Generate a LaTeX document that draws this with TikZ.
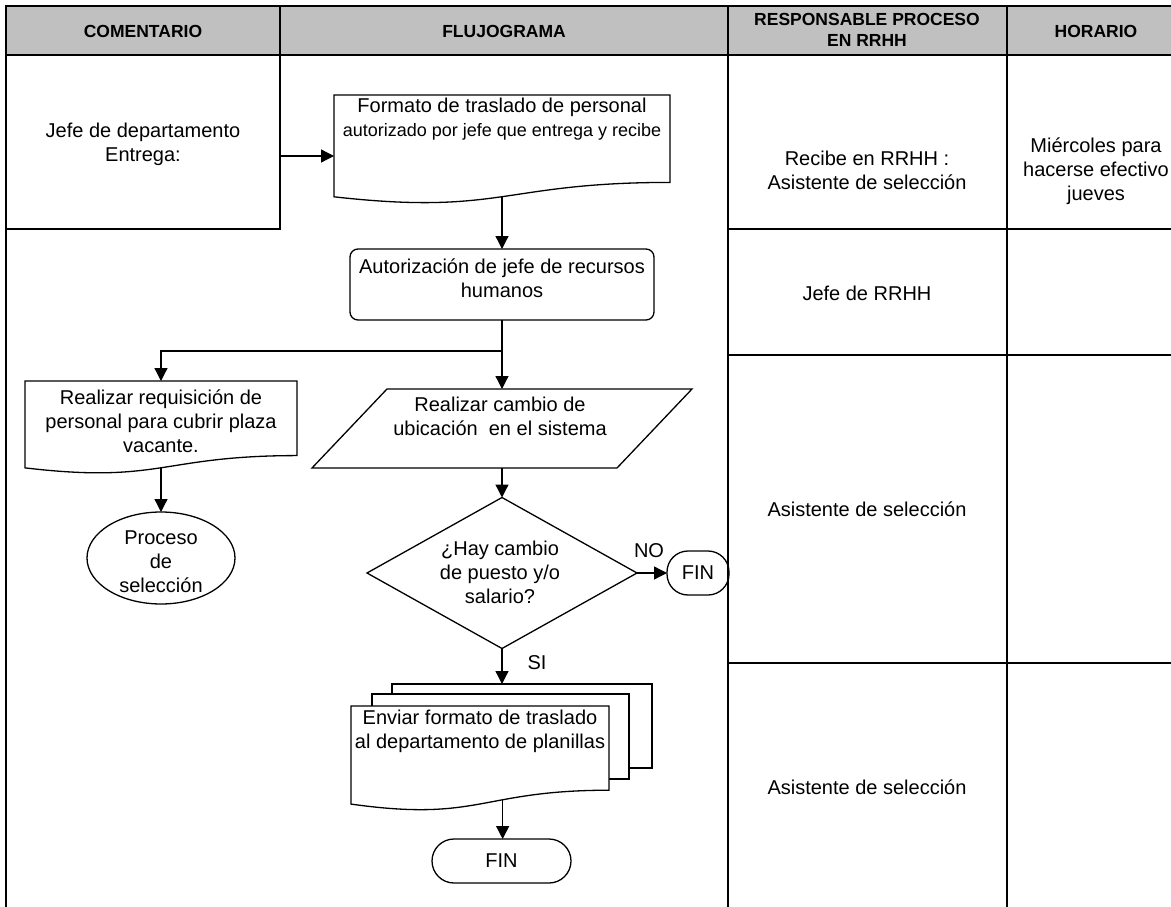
\documentclass[tikz,border=0pt]{standalone}
\usepackage{fontspec}
\setmainfont{Liberation Sans}
\usetikzlibrary{arrows.meta,calc,shapes.geometric}

\definecolor{hdrgray}{RGB}{192,192,192}

\tikzset{
  grid/.style={line width=2.6pt, line cap=rect, draw=black},
  flowline/.style={line width=1.3pt, draw=black},
  arrowline/.style={flowline, -{Triangle[length=13pt,width=13pt]}},
  txt/.style={align=center, font=\fontsize{20}{24}\selectfont, inner sep=0pt},
  hdr/.style={align=center, font=\bfseries\fontsize{17.5}{21}\selectfont, inner sep=0pt},
  box/.style={draw=none, inner sep=0pt, outer sep=0pt},
  shapebox/.style={flowline, fill=white, inner sep=0pt, outer sep=0pt},
}

% document symbol with a wavy bottom edge, drawn over the bounds of node #1;
% #3 is a coordinate placed on the wave at curve parameter #2
\newcommand{\docshape}[3]{%
  \draw[flowline, fill=white]
    (#1.north west) -- (#1.north east)
    -- ($(#1.north east)!0.802!(#1.south east)$)
    .. controls ($(#1.north)!0.802!(#1.south)$) and ($(#1.north)!1.1075!(#1.south)$)
    .. coordinate[pos=#2] (#3) ($(#1.north west)!0.934!(#1.south west)$)
    -- cycle;}

\begin{document}
\begin{tikzpicture}[x=1pt,y=-1pt]
\useasboundingbox (0,0) rectangle (1171,907);

% header band
\fill[hdrgray] (6,6) rectangle (1171,55);

% ---------- flowchart shapes ----------
% transfer form
\node[box, minimum width=336pt, minimum height=109pt] (fmt) at (502,149.5) {};
\docshape{fmt}{0.5}{fmtout}
\node[txt] (fmttxt) at (502,119) {Formato de traslado de personal\\{\fontsize{18}{21}\selectfont autorizado por jefe que entrega y recibe}};

% HR approval
\node[shapebox, draw, rounded corners=8pt, minimum width=304pt, minimum height=71pt] (auth) at (502,284.5) {};
\node[txt] (authtxt) at (502,278) {Autorización de jefe de recursos\\humanos};

% system update (parallelogram)
\node[box, minimum width=380pt, minimum height=79pt] (chg) at (502,428.5) {};
\draw[flowline, fill=white] ([xshift=75pt]chg.north west) -- (chg.north east)
  -- ([xshift=-75pt]chg.south east) -- (chg.south west) -- cycle;
\node[txt] (chgtxt) at (500,416) {Realizar cambio de\\ubicación\ \ en el sistema};

% staff requisition
\node[box, minimum width=272pt, minimum height=93pt] (req) at (161,427.5) {};
\docshape{req}{0.5}{reqout}
\node[txt] (reqtxt) at (161,421) {Realizar requisición de\\personal para cubrir plaza\\vacante.};

% selection process
\node[shapebox, draw, ellipse, minimum width=148pt, minimum height=92pt] (proc) at (161,558) {};
\node[txt] (proctxt) at (161,562) {Proceso\\de\\selección};

% decision
\node[shapebox, draw, diamond, minimum width=270pt, minimum height=151pt] (dec) at (502,573) {};
\node[txt] (dectxt) at (500,572) {¿Hay cambio\\de puesto y/o\\salario?};

% end (NO branch)
\node[shapebox, draw, txt, rounded corners=21pt, minimum width=62pt, minimum height=44pt] (finno) at (698,573) {FIN};
\node[txt] (nolbl) at (649,551) {NO};
\node[txt] (silbl) at (537,663) {SI};

% stacked documents
\node[shapebox, draw, minimum width=260pt, minimum height=84pt] (envc) at (522,726) {};
\node[shapebox, draw, minimum width=257pt, minimum height=85pt] (envb) at (500.5,736.5) {};
\node[box, minimum width=258pt, minimum height=105pt] (enva) at (480,758.5) {};
\docshape{enva}{0.385}{envout}
\node[txt] (envtxt) at (480,731) {Enviar formato de traslado\\al departamento de planillas};

% final end
\node[shapebox, draw, txt, rounded corners=22pt, minimum width=139pt, minimum height=44pt] (finend) at (501.5,861) {FIN};

% ---------- connectors ----------
\coordinate (jefeout) at (280,156);
\coordinate (split) at (502,351);
\draw[arrowline] (jefeout) -- (jefeout -| fmt.west);
\draw[arrowline] (fmtout) -- (fmtout |- auth.north);
\draw[arrowline] (auth.south) -- (chg.north);
\draw[arrowline] (split) -| (req.north);
\draw[arrowline] (reqout) -- (reqout |- proc.north);
\draw[arrowline] (chg.south) -- (dec.north);
\draw[arrowline] (dec.east) -- (finno.west);
\draw[arrowline] (dec.south) -- (dec.south |- envc.north);
\draw[arrowline] (envout) -- (envout |- finend.north);

% ---------- table ----------
\draw[grid] (6,6) -- (1171,6);
\draw[grid] (6,55) -- (1171,55);
\draw[grid] (6,6) -- (6,907);
\draw[grid] (280,6) -- (280,229);
\draw[grid] (6,229) -- (280,229);
\draw[grid] (728,6) -- (728,907);
\draw[grid] (1007,6) -- (1007,907);
\draw[grid] (728,229) -- (1171,229);
\draw[grid] (728,355) -- (1171,355);
\draw[grid] (728,663) -- (1171,663);

% header texts
\node[hdr] (hcom) at (143,31) {COMENTARIO};
\node[hdr] (hflu) at (504,31) {FLUJOGRAMA};
\node[hdr] (hres) at (867,30) {RESPONSABLE PROCESO\\EN RRHH};
\node[hdr] (hhor) at (1096,31) {HORARIO};

% cell texts
\node[txt] (jefe) at (143,144) {Jefe de departamento\\Entrega:};
\node[txt] (r1) at (867,170) {Recibe en RRHH :\\Asistente de selección};
\node[txt] (h1) at (1096,171) {Miércoles para\\hacerse efectivo\\jueves};
\node[txt] (r2) at (867,293) {Jefe de RRHH};
\node[txt] (r3) at (867,509) {Asistente de selección};
\node[txt] (r4) at (867,787) {Asistente de selección};
\end{tikzpicture}
\end{document}
